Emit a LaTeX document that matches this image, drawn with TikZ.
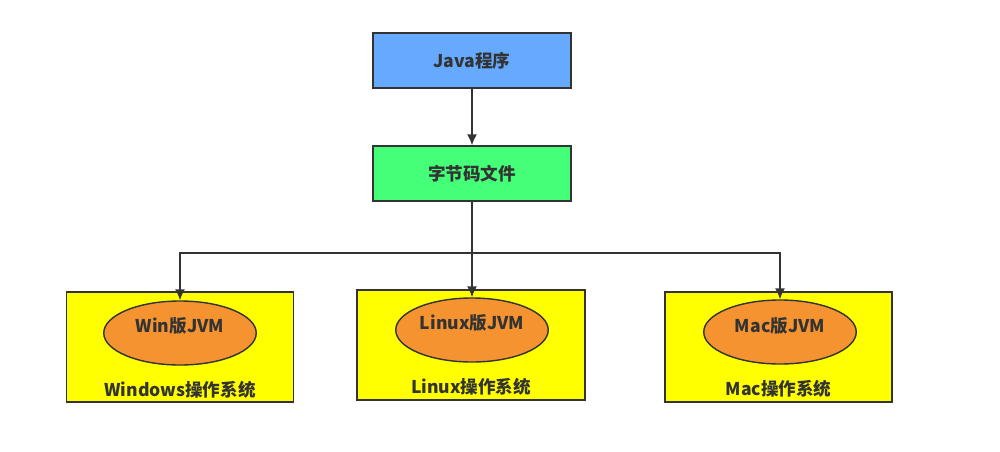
\documentclass[tikz,border=0pt]{standalone}
\usepackage{fontspec}
\setmainfont{Noto Sans CJK SC}
\usetikzlibrary{shapes.geometric,arrows.meta}

\definecolor{javablue}{HTML}{66AAFF}
\definecolor{codegreen}{HTML}{44FF77}
\definecolor{osyellow}{HTML}{FFFF00}
\definecolor{jvmorange}{HTML}{F59331}
\definecolor{ink}{HTML}{333333}

\begin{document}
\begin{tikzpicture}[thick,
  box/.style={draw=ink, line width=0.8pt, minimum width=3.96cm, minimum height=1.1cm},
  osbox/.style={draw=ink, line width=0.8pt, fill=osyellow, minimum width=4.54cm, minimum height=2.2cm},
  jvm/.style={ellipse, draw=ink, line width=0.8pt, fill=jvmorange, minimum width=3.05cm, minimum height=1.28cm},
  txt/.style={text=ink, font=\bfseries\fontsize{10}{12}\selectfont},
  arr/.style={draw=ink, line width=0.9pt, -{Latex[length=2.2mm,width=2mm]}}]
  \useasboundingbox (0,0) rectangle (20,9.02);

  \node[box, fill=javablue] (java) at (9.44,7.81) {};
  \node[txt] (javatxt) at (java) {Java程序};
  \node[box, fill=codegreen] (code) at (9.44,5.55) {};
  \node[txt] (codetxt) at (code) {字节码文件};

  \node[osbox] (win) at (3.6,2.08) {};
  \node[osbox, minimum width=4.56cm] (linux) at (9.42,2.12) {};
  \node[osbox] (mac) at (15.57,2.08) {};

  \node[jvm] (winjvm) at (3.6,2.36) {};
  \node[jvm] (linuxjvm) at (9.44,2.42) {};
  \node[jvm] (macjvm) at (15.6,2.38) {};

  \node[txt] (winjvmtxt) at (3.6,2.5) {Win版JVM};
  \node[txt] (linuxjvmtxt) at (9.44,2.56) {Linux版JVM};
  \node[txt] (macjvmtxt) at (15.6,2.5) {Mac版JVM};

  \node[txt] (wintxt) at (3.6,1.22) {Windows操作系统};
  \node[txt] (linuxtxt) at (9.42,1.28) {Linux操作系统};
  \node[txt] (mactxt) at (15.57,1.24) {Mac操作系统};

  \coordinate (split) at (9.44,3.96);

  \draw[arr] (java) -- (code);
  \draw[draw=ink, line width=0.9pt] (code.south) -- (split);
  \draw[arr] (split) -| (winjvm.north);
  \draw[arr] (split) -- (linuxjvm.north);
  \draw[arr] (split) -| (macjvm.north);
\end{tikzpicture}
\end{document}
